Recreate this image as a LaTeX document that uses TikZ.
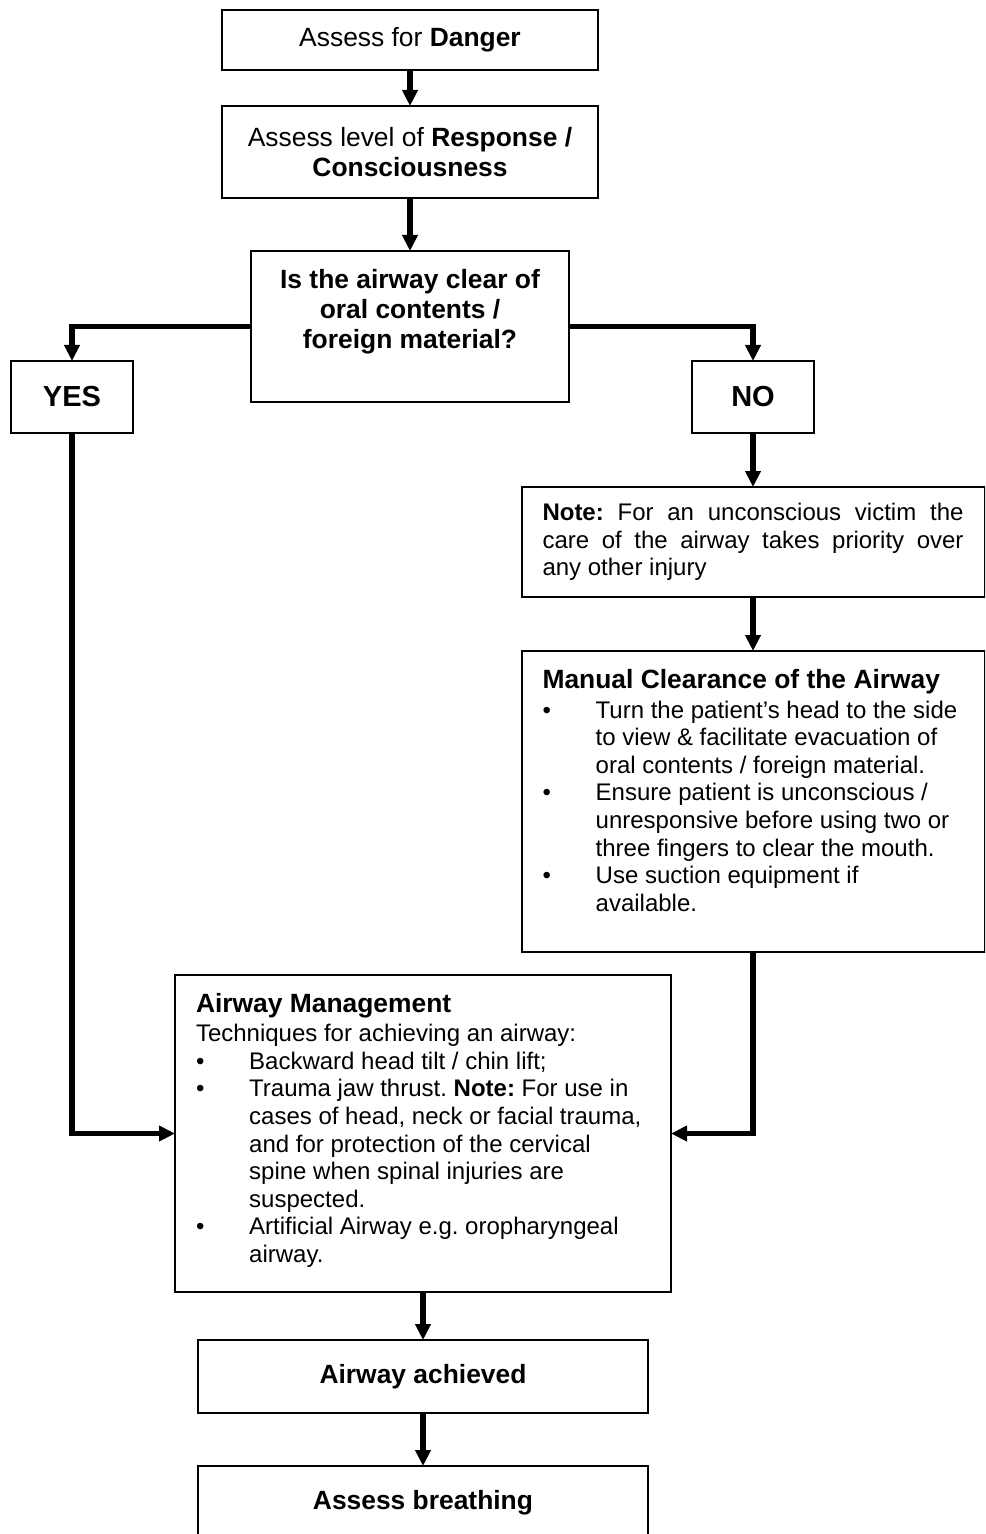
\documentclass[tikz,border=0pt]{standalone}
\usepackage{fontspec}
\setmainfont{Liberation Sans}
\usetikzlibrary{arrows.meta,positioning}

\newcommand{\bitem}[1]{\par\hangindent=26.6pt\hangafter=1\noindent
  \makebox[26.6pt][l]{\textbullet}#1}

\begin{document}
\begin{tikzpicture}[
  x=0.5pt, y=-0.5pt,
  every node/.style={
    font=\fontsize{12}{13.8}\selectfont,
    text=black
  },
  block/.style={
    draw=black,
    line width=1pt,
    rectangle,
    fill=white,
    align=center,
    inner sep=0pt,
    outer sep=0pt,
    font=\fontsize{13.2}{15}\selectfont
  },
  panel/.style 2 args={
    draw=black,
    line width=1pt,
    rectangle,
    fill=white,
    inner xsep=10.5pt,
    inner ysep=9pt,
    outer sep=0pt,
    execute at begin node={\begin{minipage}[c][#2][t]{#1}\frenchspacing},
    execute at end node={\end{minipage}}
  },
  arrow/.style={
    ->,
    draw=black,
    line width=2.75pt,
    >={Triangle[length=8pt,width=7.5pt]}
  }
]
  \path[use as bounding box, clip] (0,0) rectangle (985,1534);

  \node[block, minimum width=188pt, minimum height=30pt] (danger) at (410,40)
    {Assess for \textbf{Danger}};
  \node[block, minimum width=188pt, minimum height=46pt,
    below=18pt of danger] (response)
    {Assess level of \textbf{Response /}\\\textbf{Consciousness}};
  \node[panel={138pt}{57.5pt}, below=26.5pt of response,
    font=\fontsize{13.2}{15}\selectfont\bfseries] (question)
    {\centering Is the airway clear of\par oral contents /\par foreign material?\par};

  \node[block, minimum width=61pt, minimum height=36pt,
    font=\fontsize{14.5}{16}\selectfont\bfseries] (yes) at (72,397) {YES};
  \node[block, minimum width=61pt, minimum height=36pt,
    font=\fontsize{14.5}{16}\selectfont\bfseries] (no) at (753,397) {NO};

  \node[block, below=27pt of no, text width=210.5pt, align=justify,
    minimum height=55pt, inner xsep=10.5pt,
    font=\fontsize{12}{13.8}\selectfont\frenchspacing] (note)
    {\textbf{Note:} For an unconscious victim the\linebreak
     care of the airway takes priority over\linebreak
     any other injury};
  \node[panel={210.5pt}{132.5pt}, below=27pt of note] (manual)
    {{\fontsize{13.2}{15}\selectfont\bfseries Manual Clearance of the Airway\par}
     \vspace{1.2pt}\raggedright
     \bitem{Turn the patient's head to the side\newline to view \& facilitate evacuation of\newline oral contents / foreign material.}
     \bitem{Ensure patient is unconscious /\newline unresponsive before using two or\newline three fingers to clear the mouth.}
     \bitem{Use suction equipment if\newline available.}\par};

  \node[panel={227pt}{140.5pt}] (manage) at (423,1133.5)
    {{\fontsize{13.2}{15}\selectfont\bfseries Airway Management\par}
     \vspace{1pt}\raggedright
     Techniques for achieving an airway:
     \bitem{Backward head tilt / chin lift;}
     \bitem{Trauma jaw thrust. \textbf{Note:} For use in\newline cases of head, neck or facial trauma,\newline and for protection of the cervical\newline spine when spinal injuries are\newline suspected.}
     \bitem{Artificial Airway e.g. oropharyngeal\newline airway.}\par};

  \node[block, minimum width=225pt, minimum height=36.5pt,
    below=24pt of manage, font=\fontsize{13.2}{15}\selectfont\bfseries] (achieved)
    {Airway achieved};
  \node[block, minimum width=225pt, minimum height=36.5pt,
    below=26.5pt of achieved, font=\fontsize{13.2}{15}\selectfont\bfseries] (breathing)
    {Assess breathing};

  \draw[arrow] (danger) -- (response);
  \draw[arrow] (response) -- (question);
  \draw[arrow] (question.west) -| (yes.north);
  \draw[arrow] (question.east) -| (no.north);
  \draw[arrow] (no) -- (note);
  \draw[arrow] (note) -- (manual);
  \draw[arrow] (yes.south) |- (manage.west);
  \draw[arrow] (manual.south) |- (manage.east);
  \draw[arrow] (manage.south) -- (achieved.north);
  \draw[arrow] (achieved) -- (breathing);
\end{tikzpicture}
\end{document}
